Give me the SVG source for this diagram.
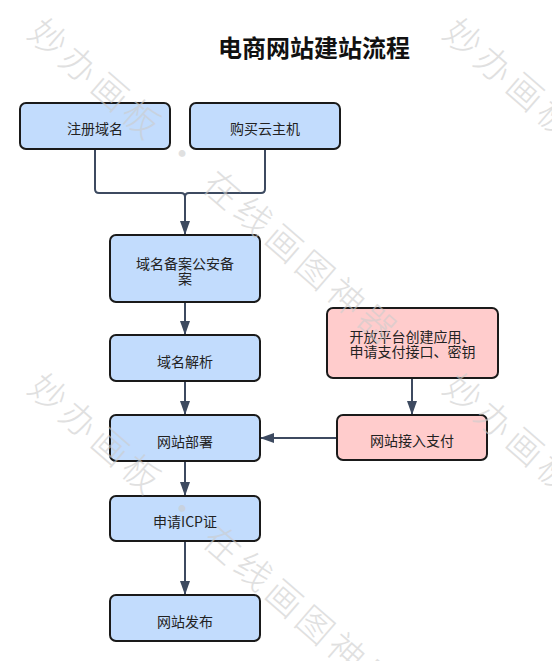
<svg xmlns="http://www.w3.org/2000/svg" width="552" height="661" viewBox="0 0 552 661">
<style>
.n rect{stroke:#1a1a1a;stroke-width:2}
.b rect{fill:#c2dcfd}
.p rect{fill:#ffcccc}
.n text{font-family:"Noto Sans CJK SC","Liberation Sans",sans-serif;font-size:14px;fill:#222;text-anchor:middle;dominant-baseline:central}
.c path{fill:none;stroke:#3d4a60;stroke-width:2}
.t{font-family:"Noto Sans CJK SC","Liberation Sans",sans-serif;font-size:24px;font-weight:bold;fill:#111;text-anchor:middle;dominant-baseline:central}
.w{font-family:"Noto Sans CJK SC","Liberation Sans",sans-serif;font-size:36px;font-weight:300;letter-spacing:5px;fill:#cccccc;opacity:0.6}
</style>
<defs>
<marker id="ah" markerWidth="14" markerHeight="10" refX="14" refY="5" orient="auto" markerUnits="userSpaceOnUse">
<path d="M0,0 L14,5 L0,10 z" fill="#3d4a60"/>
</marker>
</defs>
<rect width="552" height="661" fill="#fff"/>
<text class="t" x="314" y="46">电商网站建站流程</text>
<g class="c" id="connectors">
<path d="M95,149 V189 Q95,193 99,193 H181 Q185,193 185,197 V235" marker-end="url(#ah)"/>
<path d="M265,149 V189 Q265,193 261,193 H189 Q185,193 185,197"/>
<path d="M185,302 V335" marker-end="url(#ah)"/>
<path d="M185,381 V415" marker-end="url(#ah)"/>
<path d="M185,461 V496" marker-end="url(#ah)"/>
<path d="M185,541 V595" marker-end="url(#ah)"/>
<path d="M412,378 V415" marker-end="url(#ah)"/>
<path d="M337,438 H260" marker-end="url(#ah)"/>
</g>
<g id="n1" class="n b"><rect x="20" y="103" width="150" height="46" rx="6"/><text x="95" y="128">注册域名</text></g>
<g id="n2" class="n b"><rect x="190" y="103" width="150" height="46" rx="6"/><text x="265" y="128">购买云主机</text></g>
<g id="n3" class="n b"><rect x="110" y="235" width="150" height="67" rx="6"/><text x="185" y="263">域名备案公安备<tspan x="185" dy="15">案</tspan></text></g>
<g id="n4" class="n b"><rect x="110" y="335" width="150" height="46" rx="6"/><text x="185" y="360.5">域名解析</text></g>
<g id="n5" class="n b"><rect x="110" y="415" width="150" height="46" rx="6"/><text x="185" y="440.5">网站部署</text></g>
<g id="n6" class="n b"><rect x="110" y="496" width="150" height="45" rx="6"/><text x="185" y="521">申请ICP证</text></g>
<g id="n7" class="n b"><rect x="110" y="595" width="150" height="46" rx="6"/><text x="185" y="620.5">网站发布</text></g>
<g id="n8" class="n p"><rect x="327" y="308" width="171" height="70" rx="6"/><text x="412.5" y="336">开放平台创建应用、<tspan x="412.5" dy="15">申请支付接口、密钥</tspan></text></g>
<g id="n9" class="n p"><rect x="337" y="415" width="150" height="45" rx="6"/><text x="412" y="440">网站接入支付</text></g>
<g id="watermark">
<text class="w" transform="translate(26,36) rotate(41)">妙办画板 · 在线画图神器</text>
<text class="w" transform="translate(441,36) rotate(41)">妙办画板 · 在线画图神器</text>
<text class="w" transform="translate(26,391) rotate(41)">妙办画板 · 在线画图神器</text>
<text class="w" transform="translate(441,391) rotate(41)">妙办画板 · 在线画图神器</text>
</g>
</svg>
